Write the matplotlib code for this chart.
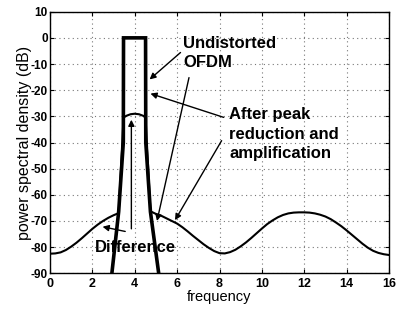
import matplotlib
matplotlib.use("Agg")
import matplotlib.pyplot as plt

plt.rcParams['font.family'] = ['Liberation Sans', 'DejaVu Sans']

# Undistorted OFDM spectrum (thick)
undist_f = [2.84, 2.92, 3.24, 3.46, 3.47, 4.51, 4.52, 4.74, 5.13, 5.18]
undist_db = [-95, -90, -66.5, -40, 0, 0, -40, -66.5, -90, -95]

# After peak reduction and amplification
after_f = [0.0, 0.25, 0.5, 0.75, 1.0, 1.25, 1.5, 1.75, 2.0, 2.25, 2.5, 2.75, 3.0, 3.24,
           3.47, 3.6, 3.8, 4.0, 4.2, 4.4, 4.51,
           4.74, 5.0, 5.25, 5.5, 5.75, 6.0, 6.25, 6.5, 6.75, 7.0, 7.25, 7.5, 7.75, 8.0,
           8.25, 8.5, 8.75, 9.0, 9.25, 9.5, 9.75, 10.0, 10.25, 10.5, 10.75, 11.0, 11.25,
           11.5, 11.75, 12.0, 12.25, 12.5, 12.75, 13.0, 13.25, 13.5, 13.75, 14.0, 14.25,
           14.5, 14.75, 15.0, 15.25, 15.5, 15.75, 16.0]
after_db = [-82.5, -82.4, -82.0, -81.1, -79.8, -78.3, -76.6, -74.8, -73.0, -71.4, -70.0,
            -68.8, -67.8, -67.0,
            -30.5, -29.8, -29.2, -29.0, -29.2, -29.8, -30.5,
            -66.3, -67.3, -68.0, -69.0, -70.0, -71.0, -72.4, -74.0, -75.7, -77.3, -78.9,
            -80.3, -81.5, -82.3, -82.4, -81.9, -81.0, -79.7, -78.2, -76.5, -74.7, -72.9,
            -71.2, -69.8, -68.6, -67.7, -67.1, -66.8, -66.7, -66.7, -66.8, -67.1, -67.6,
            -68.3, -69.3, -70.6, -72.0, -73.6, -75.3, -77.0, -78.7, -80.2, -81.4, -82.2,
            -82.7, -83.0]

xticks = [0, 2, 4, 6, 8, 10, 12, 14, 16]
yticks = [10, 0, -10, -20, -30, -40, -50, -60, -70, -80, -90]

fig = plt.figure(figsize=(3.96, 3.11), dpi=100)
ax = fig.add_axes([0.1263, 0.1212, 0.856, 0.8412])

ax.plot(after_f, after_db, color='black', lw=1.5, solid_joinstyle='round')
ax.plot(undist_f, undist_db, color='black', lw=2.6, solid_joinstyle='miter')

ax.set_xlim(0, 16)
ax.set_ylim(-90, 10)
ax.set_xticks(xticks)
ax.set_yticks(yticks)
ax.set_xticklabels([str(t) for t in xticks], fontweight='bold', fontsize=9)
ax.set_yticklabels([str(t) for t in yticks], fontweight='bold', fontsize=8.5)
ax.tick_params(direction='in', length=3, width=0.8, top=True, right=True)
ax.tick_params(axis='x', pad=3.5)
ax.tick_params(axis='y', pad=1.5)
ax.grid(True, linestyle=(0, (1, 3)), color='#777777', lw=0.8)
for s in ax.spines.values():
    s.set_linewidth(1.0)

ax.set_xlabel('frequency', fontsize=10.5, labelpad=0)
ax.set_ylabel('power spectral density (dB)', fontsize=11.5, labelpad=-1)

tkw = dict(fontsize=12, fontweight='bold', ha='left', va='baseline')
ax.text(6.3, -3.7, 'Undistorted', **tkw)
ax.text(6.3, -11.3, 'OFDM', **tkw)
ax.text(8.45, -31.0, 'After peak', **tkw)
ax.text(8.45, -38.7, 'reduction and', **tkw)
ax.text(8.45, -46.0, 'amplification', **tkw)
ax.text(2.13, -81.8, 'Difference', **tkw)

akw = dict(arrowstyle='-|>', color='black', lw=1.0, mutation_scale=9, shrinkA=0, shrinkB=0)
ax.annotate('', xy=(4.7, -15.9), xytext=(6.16, -5.6), arrowprops=akw)
ax.annotate('', xy=(4.74, -21.3), xytext=(8.2, -30.4), arrowprops=akw)
ax.annotate('', xy=(5.05, -70.0), xytext=(6.56, -15.2), arrowprops=akw)
ax.annotate('', xy=(5.9, -69.7), xytext=(8.1, -39.3), arrowprops=akw)
ax.annotate('', xy=(2.48, -72.2), xytext=(3.55, -74.0), arrowprops=akw)
ax.annotate('', xy=(3.84, -31.3), xytext=(3.84, -73.0), arrowprops=akw)

fig.savefig('out.png', dpi=100)
